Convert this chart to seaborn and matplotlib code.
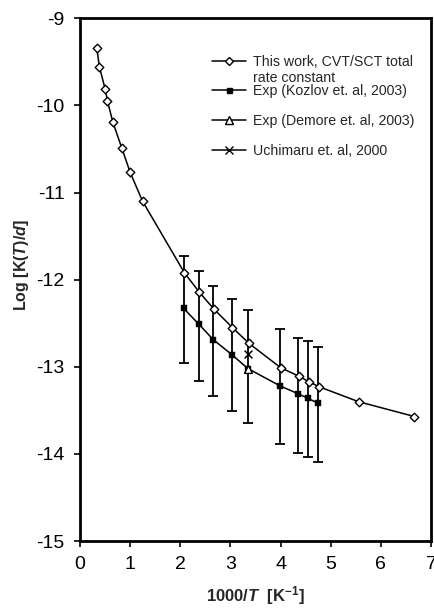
import numpy as np
import pandas as pd
import seaborn as sns
import matplotlib.pyplot as plt
from matplotlib.lines import Line2D

# this work, CVT/SCT total rate constant
calc_x = [0.333, 0.387, 0.50, 0.547, 0.653, 0.833, 1.00, 1.247,
          2.08, 2.373, 2.673, 3.04, 3.367, 4.00, 4.373, 4.56, 4.773, 5.553, 6.667]
calc_y = [-9.34, -9.56, -9.81, -9.95, -10.19, -10.49, -10.77, -11.10,
          -11.92, -12.14, -12.34, -12.55, -12.73, -13.01, -13.11, -13.17, -13.23, -13.40, -13.57]

# Kozlov et al 2003 (point at 3.35 sits under the Demore triangle)
koz_x = [2.067, 2.367, 2.66, 3.027, 3.347, 3.993, 4.353, 4.54, 4.753]
koz_y = [-12.33, -12.51, -12.69, -12.86, -13.02, -13.22, -13.31, -13.36, -13.42]
koz_top = [-11.73, -11.90, -12.07, -12.22, -12.35, -12.57, -12.67, -12.70, -12.77]
koz_bot = [-12.96, -13.16, -13.34, -13.51, -13.64, -13.89, -13.99, -14.03, -14.09]

# Demore et al 2003
dem_x = [3.347]
dem_y = [-13.02]

# Uchimaru et al 2000
uch_x = [3.347]
uch_y = [-12.85]

lab_calc = "This work, CVT/SCT total"
lab_calc2 = "rate constant"
lab_koz = "Exp (Kozlov et. al, 2003)"
lab_dem = "Exp (Demore et. al, 2003)"
lab_uch = "Uchimaru et. al, 2000"

sns.set_style("ticks")
plt.rcParams['font.family'] = ['Liberation Sans', 'DejaVu Sans']
plt.rcParams['axes.unicode_minus'] = False
plt.rcParams['mathtext.fontset'] = 'custom'
plt.rcParams['mathtext.it'] = 'Liberation Sans:italic:bold'
plt.rcParams['mathtext.rm'] = 'Liberation Sans:bold'
plt.rcParams['mathtext.bf'] = 'Liberation Sans:bold'

fig = plt.figure(figsize=(4.35, 6.08), dpi=100)
ax = fig.add_axes([0.184, 0.110, 0.807, 0.860])

calc = pd.DataFrame({"x": calc_x, "y": calc_y})
koz = pd.DataFrame({"x": koz_x, "y": koz_y})

# error bars on experiment
yerr = [np.array(koz_y) - np.array(koz_bot), np.array(koz_top) - np.array(koz_y)]
ax.errorbar(koz_x, koz_y, yerr=yerr, fmt="none", ecolor="black",
            elinewidth=1.3, capsize=3.8, capthick=1.3, zorder=2)

sns.lineplot(data=calc, x="x", y="y", ax=ax, color="black", lw=1.1,
             sort=False, zorder=3)
sns.scatterplot(data=calc, x="x", y="y", ax=ax, marker="D", s=19,
                facecolor="white", edgecolor="black", linewidth=1.0, zorder=5)

sns.lineplot(data=koz, x="x", y="y", ax=ax, color="black", lw=1.1,
             sort=False, zorder=3)
sns.scatterplot(data=koz, x="x", y="y", ax=ax, marker="s", s=13,
                color="black", edgecolor="black", zorder=4)

ax.scatter(dem_x, dem_y, marker="^", s=32, facecolor="white",
           edgecolor="black", linewidth=1.0, zorder=6)
ax.scatter(uch_x, uch_y, marker="x", s=32, color="black",
           linewidth=1.1, zorder=6)

ax.set_xlim(0, 7)
ax.set_ylim(-15, -9)
ax.set_xticks(range(0, 8))
ax.set_yticks(range(-15, -8))
ax.tick_params(direction="out", length=4, width=1.2, labelsize=14,
               colors="black", pad=7)
for s in ax.spines.values():
    s.set_visible(True)
    s.set_linewidth(2)
    s.set_color("black")

ax.set_xlabel(r"1000/$\mathit{T}$  [K$^{\mathbf{-1}}$]", fontsize=12,
              fontweight="bold", labelpad=8)
ax.set_ylabel(r"Log [K($\mathit{T}$)/$\mathit{d}$]", fontsize=11.5,
              fontweight="bold")
ax.yaxis.set_label_coords(-0.14, 0.528)

handles = [
    Line2D([], [], color="black", lw=1.1, marker="D", markersize=4.5,
           markerfacecolor="white", markeredgecolor="black"),
    Line2D([], [], color="black", lw=1.1, marker="s", markersize=3.6,
           markerfacecolor="black"),
    Line2D([], [], color="black", lw=1.1, marker="^", markersize=5.5,
           markerfacecolor="white", markeredgecolor="black"),
    Line2D([], [], color="black", lw=1.1, marker="x", markersize=5.5),
]
leg = ax.legend(handles, [lab_calc, lab_koz, lab_dem, lab_uch], loc="upper left",
                bbox_to_anchor=(0.375, 0.93), frameon=False, fontsize=10.2,
                handlelength=2.45, handletextpad=0.45, labelspacing=1.1,
                borderaxespad=0, borderpad=0)

# second line of the first legend label sits just under the first one
fig.canvas.draw()
bb = leg.get_texts()[0].get_window_extent().transformed(ax.transAxes.inverted())
ax.text(bb.x0, bb.y0 - 0.004, lab_calc2, transform=ax.transAxes,
        fontsize=10.2, va="top", ha="left")

fig.savefig("out.png", dpi=100)
